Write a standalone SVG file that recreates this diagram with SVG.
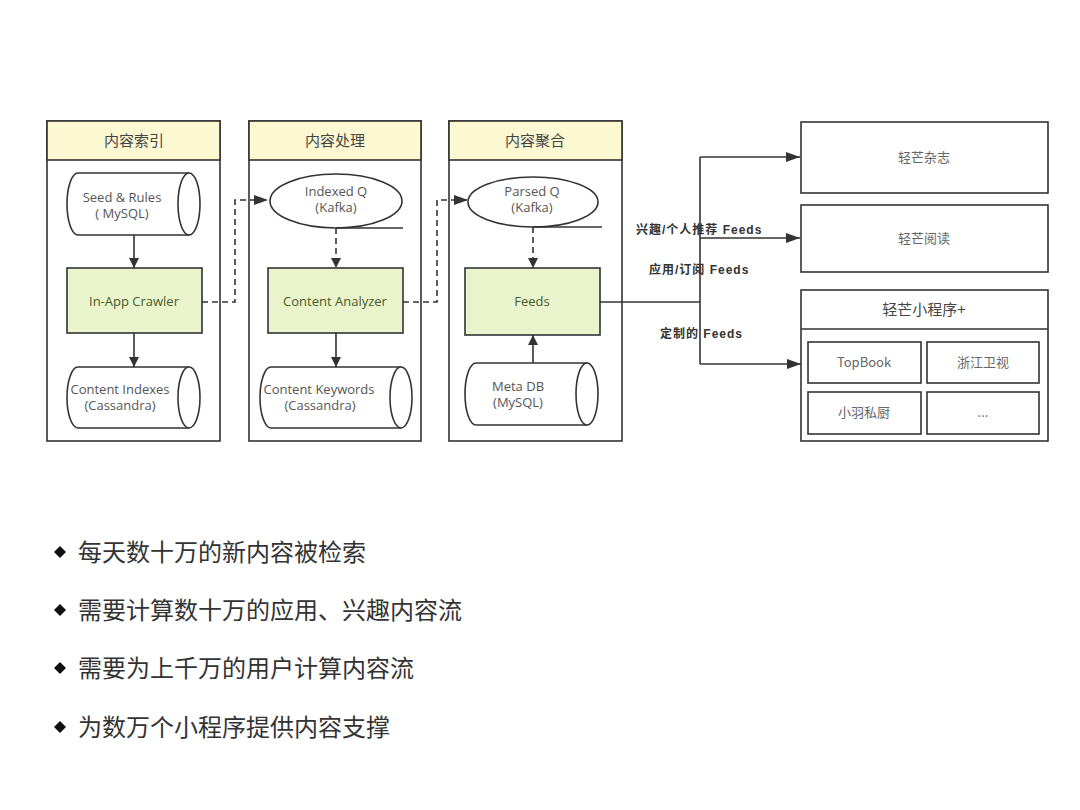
<svg xmlns="http://www.w3.org/2000/svg" width="1080" height="810" viewBox="0 0 1080 810">
<defs>
<marker id="arr" viewBox="0 0 10 10" refX="10" refY="5" markerWidth="10" markerHeight="10" markerUnits="userSpaceOnUse" orient="auto">
<path d="M0,0 L10,5 L0,10 Z" fill="#333"/>
</marker>
<marker id="arrL" viewBox="0 0 14 10" refX="14" refY="5" markerWidth="14" markerHeight="10" markerUnits="userSpaceOnUse" orient="auto">
<path d="M0,0 L14,5 L0,10 Z" fill="#333"/>
</marker>
</defs>
<style>
.panel{fill:#fff;stroke:#333;stroke-width:1.6}
.head{fill:#fbf8d2;stroke:#333;stroke-width:1.6}
.proc{fill:#e9f4cd;stroke:#333;stroke-width:1.6}
.shape{fill:#fff;stroke:#333;stroke-width:1.6}
.box{fill:#fff;stroke:#333;stroke-width:1.6}
.t{font-family:"Open Sans","Noto Sans","Noto Sans CJK SC",sans-serif;font-size:13px;fill:#555;text-anchor:middle}
.tg{font-family:"Open Sans","Noto Sans","Noto Sans CJK SC",sans-serif;font-size:13px;fill:#4a5a2a;text-anchor:middle}
.h{font-family:"Noto Sans CJK SC",sans-serif;font-size:15px;fill:#444;text-anchor:middle}
.r{font-family:"Noto Sans CJK SC",sans-serif;font-size:13px;fill:#666;text-anchor:middle}
.lbl{font-family:"Liberation Sans","Noto Sans CJK SC",sans-serif;font-size:12px;font-weight:bold;fill:#333;letter-spacing:1px}
.bul{font-family:"Noto Sans CJK SC",sans-serif;font-size:24px;fill:#333}
.ln{fill:none;stroke:#333;stroke-width:1.6}
.dash{fill:none;stroke:#333;stroke-width:1.6;stroke-dasharray:6,4}
</style>
<rect width="1080" height="810" fill="#fff"/>

<!-- Panel 1 -->
<g id="panel-index">
<rect class="panel" x="47" y="121" width="173" height="320"/>
<rect class="head" x="47" y="121" width="173" height="39"/>
<text class="h" x="134" y="146">内容索引</text>
</g>
<g id="seed-rules">
<path class="shape" d="M189,173 H78 A11,31 0 0 0 78,235 H189"/>
<ellipse class="shape" cx="189" cy="204" rx="11" ry="31"/>
<text class="t" x="122" y="202">Seed &amp; Rules</text>
<text class="t" x="122" y="218">( MySQL)</text>
</g>
<g id="crawler">
<rect class="proc" x="67" y="268" width="135" height="65"/>
<text class="tg" x="134" y="306">In-App Crawler</text>
</g>
<g id="content-indexes">
<path class="shape" d="M189,367 H78 A11,30.5 0 0 0 78,428 H189"/>
<ellipse class="shape" cx="189" cy="397.5" rx="11" ry="30.5"/>
<text class="t" x="120" y="394">Content Indexes</text>
<text class="t" x="120" y="410">(Cassandra)</text>
</g>

<!-- Panel 2 -->
<g id="panel-process">
<rect class="panel" x="249" y="121" width="172" height="320"/>
<rect class="head" x="249" y="121" width="172" height="39"/>
<text class="h" x="335" y="146">内容处理</text>
</g>
<g id="indexed-q">
<ellipse class="shape" cx="336" cy="201" rx="66" ry="27"/>
<line class="ln" x1="336" y1="228" x2="403" y2="228"/>
<text class="t" x="336" y="196">Indexed Q</text>
<text class="t" x="336" y="212">(Kafka)</text>
</g>
<g id="analyzer">
<rect class="proc" x="268" y="268" width="135" height="65"/>
<text class="tg" x="335" y="306">Content Analyzer</text>
</g>
<g id="content-keywords">
<path class="shape" d="M401,367 H271 A11,30.5 0 0 0 271,428 H401"/>
<ellipse class="shape" cx="401" cy="397.5" rx="11" ry="30.5"/>
<text class="t" x="319" y="394">Content Keywords</text>
<text class="t" x="320" y="410">(Cassandra)</text>
</g>

<!-- Panel 3 -->
<g id="panel-aggregate">
<rect class="panel" x="449" y="121" width="173" height="320"/>
<rect class="head" x="449" y="121" width="173" height="39"/>
<text class="h" x="535" y="146">内容聚合</text>
</g>
<g id="parsed-q">
<ellipse class="shape" cx="533" cy="202" rx="65" ry="25"/>
<line class="ln" x1="533" y1="227" x2="602" y2="227"/>
<text class="t" x="532" y="196">Parsed Q</text>
<text class="t" x="532" y="212">(Kafka)</text>
</g>
<g id="feeds">
<rect class="proc" x="465" y="268" width="135" height="67"/>
<text class="tg" x="532" y="306">Feeds</text>
</g>
<g id="meta-db">
<path class="shape" d="M587,363 H476 A11,31 0 0 0 476,425 H587"/>
<ellipse class="shape" cx="587" cy="394" rx="11" ry="31"/>
<text class="t" x="518" y="391">Meta DB</text>
<text class="t" x="518" y="407">(MySQL)</text>
</g>

<!-- Right side -->
<g id="qm-magazine">
<rect class="box" x="801" y="122" width="247" height="71"/>
<text class="r" x="924" y="162">轻芒杂志</text>
</g>
<g id="qm-reading">
<rect class="box" x="801" y="205" width="247" height="67"/>
<text class="r" x="924" y="243">轻芒阅读</text>
</g>
<g id="qm-miniprogram">
<rect class="box" x="801" y="290" width="247" height="151"/>
<line class="ln" x1="801" y1="329" x2="1048" y2="329"/>
<text class="h" x="924" y="315">轻芒小程序+</text>
<rect class="box" x="808" y="342" width="113" height="41"/>
<text class="r" x="864" y="367">TopBook</text>
<rect class="box" x="927" y="342" width="112" height="41"/>
<text class="r" x="983" y="367">浙江卫视</text>
<rect class="box" x="808" y="392" width="113" height="42"/>
<text class="r" x="864" y="417">小羽私厨</text>
<rect class="box" x="927" y="392" width="112" height="42"/>
<text class="r" x="983" y="417">...</text>
</g>

<!-- Connectors -->
<g id="connectors">
<line class="ln" x1="134" y1="235" x2="134" y2="268" marker-end="url(#arr)"/>
<line class="ln" x1="134" y1="333" x2="134" y2="367" marker-end="url(#arr)"/>
<polyline class="dash" points="202,302 235,302 235,200 268,200" marker-end="url(#arrL)"/>
<line class="dash" x1="336" y1="228" x2="336" y2="268" marker-end="url(#arr)"/>
<line class="ln" x1="336" y1="333" x2="336" y2="367" marker-end="url(#arr)"/>
<polyline class="dash" points="403,302 437,302 437,200 468,200" marker-end="url(#arrL)"/>
<line class="dash" x1="533" y1="227" x2="533" y2="268" marker-end="url(#arr)"/>
<line class="ln" x1="533" y1="363" x2="533" y2="335" marker-end="url(#arr)"/>
<polyline class="ln" points="600,302 700,302"/>
<line class="ln" x1="700" y1="157" x2="700" y2="364"/>
<line class="ln" x1="700" y1="157" x2="800" y2="157" marker-end="url(#arrL)"/>
<line class="ln" x1="700" y1="238" x2="800" y2="238" marker-end="url(#arrL)"/>
<line class="ln" x1="700" y1="364" x2="801" y2="364" marker-end="url(#arrL)"/>
<text class="lbl" x="636" y="234">兴趣/个人推荐 Feeds</text>
<text class="lbl" x="649" y="274">应用/订阅 Feeds</text>
<text class="lbl" x="660" y="338">定制的 Feeds</text>
</g>

<!-- Bullets -->
<g id="bullets">
<path d="M60,546 L66,552 L60,558 L54,552 Z" fill="#111"/>
<text class="bul" x="78" y="561">每天数十万的新内容被检索</text>
<path d="M60,604 L66,610 L60,616 L54,610 Z" fill="#111"/>
<text class="bul" x="78" y="619">需要计算数十万的应用、兴趣内容流</text>
<path d="M60,662 L66,668 L60,674 L54,668 Z" fill="#111"/>
<text class="bul" x="78" y="677">需要为上千万的用户计算内容流</text>
<path d="M60,721 L66,727 L60,733 L54,727 Z" fill="#111"/>
<text class="bul" x="78" y="736">为数万个小程序提供内容支撑</text>
</g>
</svg>
